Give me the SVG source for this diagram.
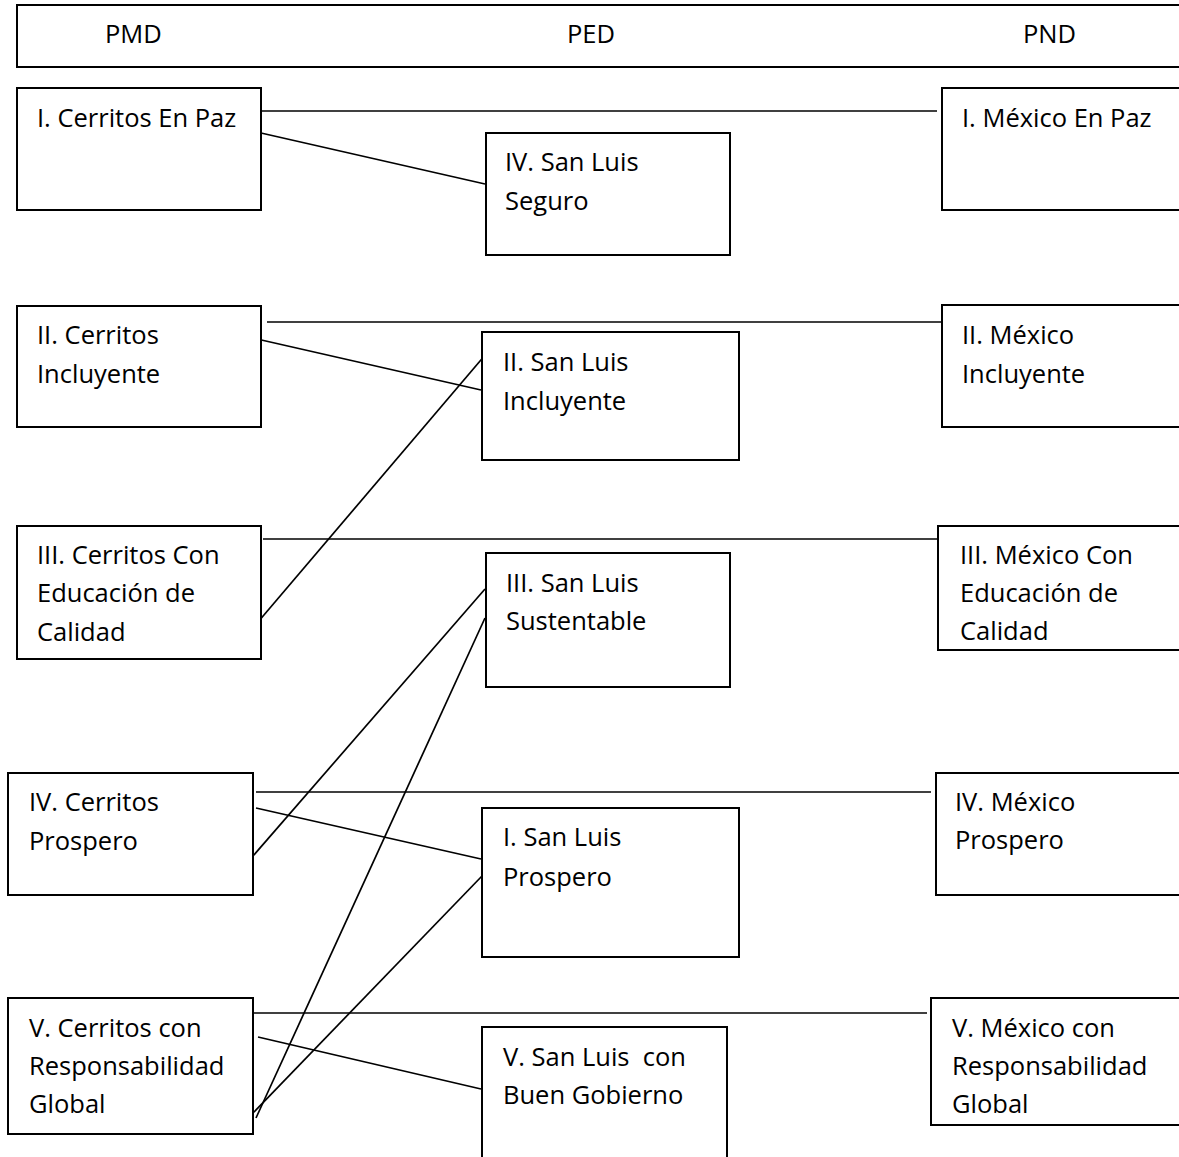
<svg xmlns="http://www.w3.org/2000/svg" width="1179" height="1157" viewBox="0 0 1179 1157">
<style>
.box{fill:#fff;stroke:#000;stroke-width:2}
.t{font-family:"Open Sans","Noto Sans","Liberation Sans",sans-serif;font-size:25.5px;fill:#000}
.c line{stroke:#000;stroke-width:1.7}
</style>
<rect x="0" y="0" width="1179" height="1157" fill="#fff"/>
<g id="header">
<rect class="box" x="17" y="5" width="1170" height="62"/>
<text class="t" x="105" y="43">PMD</text>
<text class="t" x="567" y="43">PED</text>
<text class="t" x="1023" y="43">PND</text>
</g>
<g class="c" id="connectors">
<line x1="261" y1="111" x2="937" y2="111"/>
<line x1="267" y1="322" x2="941" y2="322"/>
<line x1="263" y1="539" x2="938" y2="539"/>
<line x1="256" y1="792" x2="931" y2="792"/>
<line x1="253" y1="1013" x2="927" y2="1013"/>
<line x1="261" y1="133" x2="485" y2="184"/>
<line x1="257" y1="339" x2="481" y2="390"/>
<line x1="258" y1="622" x2="486" y2="354"/>
<line x1="253" y1="856" x2="485" y2="589"/>
<line x1="256" y1="1118" x2="485" y2="618"/>
<line x1="253" y1="1113" x2="482" y2="876"/>
<line x1="256" y1="808" x2="481" y2="859"/>
<line x1="258" y1="1037" x2="481" y2="1089"/>
</g>
<g id="pmd1"><rect class="box" x="17" y="88" width="244" height="122"/><text class="t" x="37" y="127">I. Cerritos En Paz</text></g>
<g id="pmd2"><rect class="box" x="17" y="306" width="244" height="121"/><text class="t" x="37" y="344">II. Cerritos</text><text class="t" x="37" y="383">Incluyente</text></g>
<g id="pmd3"><rect class="box" x="17" y="526" width="244" height="133"/><text class="t" x="37" y="564">III. Cerritos Con</text><text class="t" x="37" y="602">Educación de</text><text class="t" x="37" y="641">Calidad</text></g>
<g id="pmd4"><rect class="box" x="8" y="773" width="245" height="122"/><text class="t" x="29" y="811">IV. Cerritos</text><text class="t" x="29" y="850">Prospero</text></g>
<g id="pmd5"><rect class="box" x="8" y="998" width="245" height="136"/><text class="t" x="29" y="1037">V. Cerritos con</text><text class="t" x="29" y="1075">Responsabilidad</text><text class="t" x="29" y="1113">Global</text></g>
<g id="ped1"><rect class="box" x="486" y="133" width="244" height="122"/><text class="t" x="505" y="171">IV. San Luis</text><text class="t" x="505" y="210">Seguro</text></g>
<g id="ped2"><rect class="box" x="482" y="332" width="257" height="128"/><text class="t" x="503" y="371">II. San Luis</text><text class="t" x="503" y="410">Incluyente</text></g>
<g id="ped3"><rect class="box" x="486" y="553" width="244" height="134"/><text class="t" x="506" y="592">III. San Luis</text><text class="t" x="506" y="630">Sustentable</text></g>
<g id="ped4"><rect class="box" x="482" y="808" width="257" height="149"/><text class="t" x="503" y="846">I. San Luis</text><text class="t" x="503" y="886">Prospero</text></g>
<g id="ped5"><rect class="box" x="482" y="1027" width="245" height="140"/><text class="t" x="503" y="1066" xml:space="preserve">V. San Luis  con</text><text class="t" x="503" y="1104">Buen Gobierno</text></g>
<g id="pnd1"><rect class="box" x="942" y="88" width="250" height="122"/><text class="t" x="962" y="127">I. México En Paz</text></g>
<g id="pnd2"><rect class="box" x="942" y="305" width="250" height="122"/><text class="t" x="962" y="344">II. México</text><text class="t" x="962" y="383">Incluyente</text></g>
<g id="pnd3"><rect class="box" x="938" y="526" width="254" height="124"/><text class="t" x="960" y="564">III. México Con</text><text class="t" x="960" y="602">Educación de</text><text class="t" x="960" y="640">Calidad</text></g>
<g id="pnd4"><rect class="box" x="936" y="773" width="256" height="122"/><text class="t" x="955" y="811">IV. México</text><text class="t" x="955" y="849">Prospero</text></g>
<g id="pnd5"><rect class="box" x="931" y="998" width="261" height="127"/><text class="t" x="952" y="1037">V. México con</text><text class="t" x="952" y="1075">Responsabilidad</text><text class="t" x="952" y="1113">Global</text></g>
</svg>
